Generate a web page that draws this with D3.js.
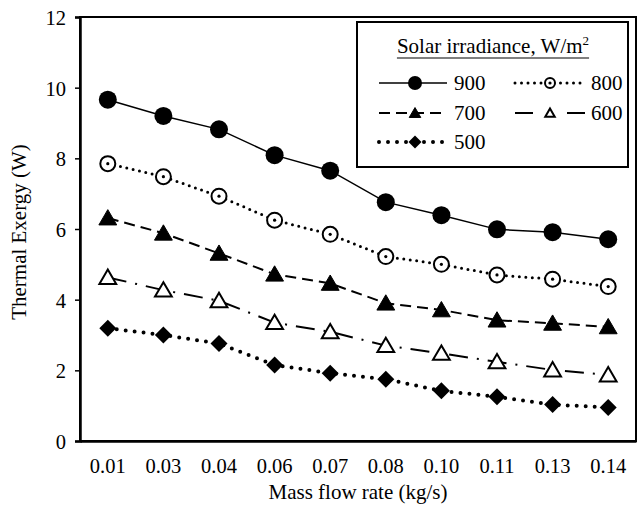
<!DOCTYPE html>
<html><head><meta charset="utf-8">
<script src="https://cdn.jsdelivr.net/npm/d3@7"></script>
<style>body{margin:0;background:#fff}svg{display:block}text{font-family:"Liberation Serif","Times New Roman",serif;fill:#000}</style>
</head><body><svg id="c" width="639" height="509"></svg>
<script>
const categories = ["0.01","0.03","0.04","0.06","0.07","0.08","0.10","0.11","0.13","0.14"];
const s900 = [9.66, 9.20, 8.82, 8.09, 7.65, 6.76, 6.39, 5.99, 5.91, 5.71];
const s800 = [7.85, 7.48, 6.93, 6.25, 5.85, 5.22, 5.00, 4.70, 4.58, 4.37];
const s700 = [6.31, 5.88, 5.31, 4.72, 4.46, 3.90, 3.71, 3.42, 3.33, 3.23];
const s600 = [4.63, 4.27, 3.97, 3.35, 3.09, 2.70, 2.48, 2.24, 2.01, 1.87];
const s500 = [3.19, 3.00, 2.76, 2.15, 1.92, 1.75, 1.42, 1.25, 1.03, 0.95];
const yTicks = [0, 2, 4, 6, 8, 10, 12];
const seriesNames = ["900","800","700","600","500"];

const svg = d3.select("#c");
const L = 80, R = 636, T = 17, B = 441;
const x = d3.scaleBand().domain(categories).range([L, R]);
const y = d3.scaleLinear().domain([0, 12]).range([B, T]);
const cx = c => x(c) + x.bandwidth() / 2;

const styles = {
  "900": {w: 1.5, dash: null, cap: "butt", marker: "circle"},
  "800": {w: 3, dash: "0,6.5", cap: "round", marker: "ocircle"},
  "700": {w: 2, dash: "11,6", cap: "butt", marker: "triangle"},
  "600": {w: 2, dash: "19,9,2,9", cap: "butt", marker: "otriangle"},
  "500": {w: 4, dash: "0,9", cap: "round", marker: "diamond"}
};
const data = {"900": s900, "800": s800, "700": s700, "600": s600, "500": s500};

// frame
svg.append("rect").attr("x", L).attr("y", T).attr("width", R - L).attr("height", B - T)
  .attr("fill", "none").attr("stroke", "#000").attr("stroke-width", 2);

// y axis
const yAxis = svg.append("g").attr("transform", `translate(${L},0)`)
  .call(d3.axisLeft(y).tickValues(yTicks).tickSize(5).tickPadding(9).tickFormat(d3.format("d")));
yAxis.select(".domain").attr("stroke-width", 2.5);
yAxis.selectAll(".tick line").attr("stroke-width", 1.5);
yAxis.selectAll("text").attr("font-size", 20.5).attr("font-family", "Liberation Serif").attr("dy", "0.36em");

// x axis
const xAxis = svg.append("g").attr("transform", `translate(0,${B})`)
  .call(d3.axisBottom(x).tickSize(0).tickPadding(17));
xAxis.select(".domain").attr("stroke-width", 2.5);
xAxis.selectAll("text").attr("font-size", 20.5).attr("font-family", "Liberation Serif");

svg.append("text").attr("x", (L + R) / 2).attr("y", 499).attr("text-anchor", "middle")
  .attr("font-size", 21).text("Mass flow rate (kg/s)");
svg.append("text").attr("transform", "translate(26,232) rotate(-90)").attr("text-anchor", "middle")
  .attr("font-size", 21).text("Thermal Exergy (W)");

function drawMarker(g, type, px, py, s) {
  if (type === "circle") {
    g.append("circle").attr("cx", px).attr("cy", py).attr("r", s).attr("fill", "#000");
  } else if (type === "ocircle") {
    g.append("circle").attr("cx", px).attr("cy", py).attr("r", s).attr("fill", "#fff").attr("stroke", "#000").attr("stroke-width", 2);
    g.append("circle").attr("cx", px).attr("cy", py).attr("r", 1.6).attr("fill", "#000");
  } else if (type === "triangle" || type === "otriangle") {
    const h = s * 1.8, w = s * 2.1;
    const pts = [[px, py - h * 0.55], [px - w / 2, py + h * 0.45], [px + w / 2, py + h * 0.45]];
    g.append("polygon").attr("points", pts.map(p => p.join(",")).join(" "))
      .attr("fill", type === "triangle" ? "#000" : "#fff")
      .attr("stroke", "#000").attr("stroke-width", type === "triangle" ? 1 : 2).attr("stroke-linejoin", "miter");
  } else if (type === "diamond") {
    const pts = [[px, py - s], [px + s, py], [px, py + s], [px - s, py]];
    g.append("polygon").attr("points", pts.map(p => p.join(",")).join(" ")).attr("fill", "#000");
  }
}
const markerSize = {circle: 9, ocircle: 7.5, triangle: 8.5, otriangle: 8, diamond: 8.5};
const legendSize = {circle: 7, ocircle: 5, triangle: 5.5, otriangle: 4.5, diamond: 6.5};

const line = d3.line().x((d, i) => cx(categories[i])).y(d => y(d));
seriesNames.forEach(name => {
  const st = styles[name];
  const g = svg.append("g");
  g.append("path").attr("d", line(data[name])).attr("fill", "none").attr("stroke", "#000")
    .attr("stroke-width", st.w).attr("stroke-dasharray", st.dash).attr("stroke-linecap", st.cap);
  data[name].forEach((v, i) => drawMarker(g, st.marker, cx(categories[i]), y(v), markerSize[st.marker]));
});

// legend
const lg = svg.append("g");
lg.append("rect").attr("x", 357).attr("y", 22).attr("width", 271).attr("height", 145)
  .attr("fill", "#fff").attr("stroke", "#000").attr("stroke-width", 2);
const title = lg.append("text").attr("x", 493).attr("y", 53).attr("text-anchor", "middle").attr("font-size", 21);
title.append("tspan").text("Solar irradiance, W/m");
title.append("tspan").attr("font-size", 13).attr("dy", -8).text("2");
const bb = title.node().getBBox();
lg.append("line").attr("x1", bb.x).attr("x2", bb.x + bb.width).attr("y1", 58).attr("y2", 58)
  .attr("stroke", "#000").attr("stroke-width", 1.2);

const legendPos = [
  {name: "900", col: 0, row: 0}, {name: "800", col: 1, row: 0},
  {name: "700", col: 0, row: 1}, {name: "600", col: 1, row: 1},
  {name: "500", col: 0, row: 2}
];
const colX = [[379, 447, 415, 454], [515, 585, 550, 591]];
const rowY = [83, 113, 142];
legendPos.forEach(p => {
  const st = styles[p.name];
  const [x1, x2, mx, tx] = colX[p.col];
  const yy = rowY[p.row];
  const dash = p.name === "600" ? "18,34,18" : st.dash;
  lg.append("line").attr("x1", x1).attr("x2", x2).attr("y1", yy).attr("y2", yy).attr("stroke", "#000")
    .attr("stroke-width", st.w).attr("stroke-dasharray", dash).attr("stroke-linecap", st.cap);
  drawMarker(lg, st.marker, mx, yy, legendSize[st.marker]);
  lg.append("text").attr("x", tx).attr("y", yy + 7).attr("font-size", 21).text(p.name);
});
</script></body></html>
